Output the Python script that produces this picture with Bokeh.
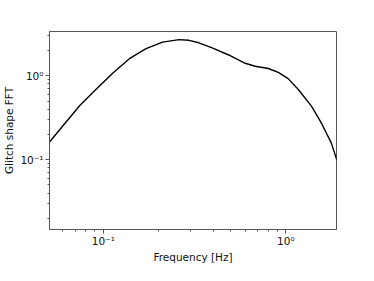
from bokeh.plotting import figure
from bokeh.models import FixedTicker, Range1d
from bokeh.embed import file_html
from bokeh.resources import INLINE

# Data (frequency in Hz, FFT amplitude)
freq = [0.0507, 0.0604, 0.0743, 0.0916, 0.1129, 0.1390, 0.1713, 0.2111,
        0.2599, 0.2944, 0.3338, 0.3947, 0.4858, 0.5986, 0.6786, 0.8013,
        0.9082, 1.029, 1.166, 1.380, 1.563, 1.772, 1.905]
fft = [0.1627, 0.2574, 0.4428, 0.6971, 1.084, 1.602, 2.115, 2.523,
       2.701, 2.654, 2.479, 2.153, 1.773, 1.413, 1.300, 1.224,
       1.098, 0.927, 0.6918, 0.4350, 0.2742, 0.1586, 0.0975]

major_ticks = [0.1, 1.0]
tick_labels = {0.1: "10⁻¹", 1: "10⁰"}

x_minor = [k * 10.0 ** e for e in (-2, -1, 0) for k in range(2, 10)]
y_minor = [k * 10.0 ** e for e in (-2, -1, 0) for k in range(2, 10)]

p = figure(width=358, height=265, x_axis_type="log", y_axis_type="log",
           output_backend="svg", toolbar_location=None,
           x_range=Range1d(0.0507, 1.893), y_range=Range1d(0.0147, 3.38),
           min_border_left=47, min_border_right=22,
           min_border_top=31, min_border_bottom=31)

p.line(freq, fft, line_color="black", line_width=1.4)

p.xgrid.visible = False
p.ygrid.visible = False
p.outline_line_color = "#555555"
p.outline_line_width = 1

p.xaxis.ticker = FixedTicker(ticks=major_ticks, minor_ticks=x_minor)
p.yaxis.ticker = FixedTicker(ticks=major_ticks, minor_ticks=y_minor)
p.xaxis.major_label_overrides = tick_labels
p.yaxis.major_label_overrides = tick_labels

for ax in (p.xaxis[0], p.yaxis[0]):
    ax.axis_line_color = "#555555"
    ax.major_tick_line_color = "#555555"
    ax.minor_tick_line_color = "#555555"
    ax.major_tick_out = 4
    ax.major_tick_in = 0
    ax.minor_tick_out = 2
    ax.minor_tick_in = 0
    ax.major_label_text_font = "DejaVu Sans"
    ax.major_label_text_font_size = "10.5px"
    ax.major_label_text_color = "#111111"
    ax.axis_label_text_font = "DejaVu Sans"
    ax.axis_label_text_font_size = "10.5px"
    ax.axis_label_text_font_style = "normal"
    ax.axis_label_text_color = "#111111"
    ax.major_label_standoff = 2
    ax.axis_label_standoff = 2

p.xaxis.major_label_standoff = 1
p.xaxis.axis_label_standoff = 1

p.xaxis.axis_label = "Frequency [Hz]"
p.yaxis.axis_label = "Glitch shape FFT"

open("out.html", "w").write(file_html(p, INLINE))
